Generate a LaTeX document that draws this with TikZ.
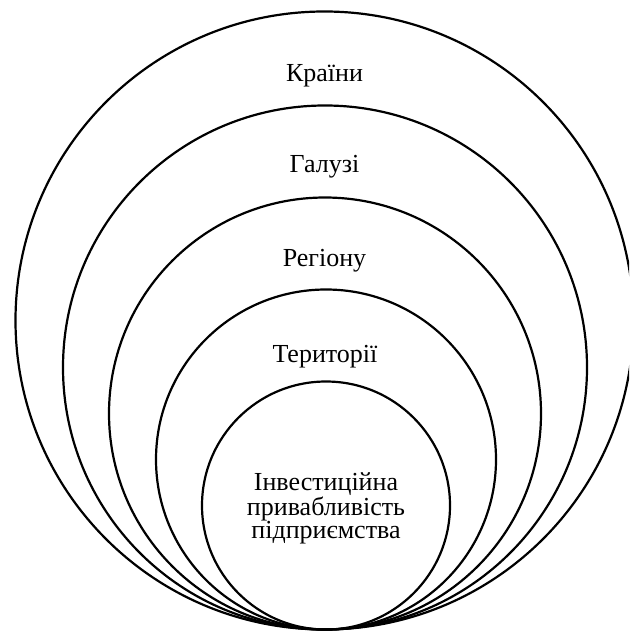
\documentclass[tikz,border=0pt]{standalone}
\usepackage{fontspec}
\setmainfont{Liberation Serif}
\begin{document}
\begin{tikzpicture}[x=1pt,y=-1pt,
  ring/.style={draw=black,line width=2.2pt},
  lbl/.style={anchor=base,inner sep=0pt,font=\fontsize{26}{26}\selectfont},
  inner/.style={anchor=center,inner sep=0pt,align=center,font=\fontsize{26}{22.7}\selectfont}]
\useasboundingbox (0,0) rectangle (629,631);
\begin{scope}
\clip (0,0) rectangle (629,631);
\draw[ring] (324.5,320.5) circle (309);
\draw[ring] (325,367.5) circle (262);
\draw[ring] (325,413.5) circle (216);
\draw[ring] (326,459.5) circle (170);
\draw[ring] (326,505.5) circle (124);
\end{scope}
\node[lbl] (k) at (324.5,81.7) {Країни};
\node[lbl] (g) at (324.5,172.7) {Галузі};
\node[lbl] (r) at (324.5,266) {Регіону};
\node[lbl] (t) at (325,362) {Території};
\node[inner] (p) at (326,508.5) {Інвестиційна\\привабливість\\підприємства};
\end{tikzpicture}
\end{document}
